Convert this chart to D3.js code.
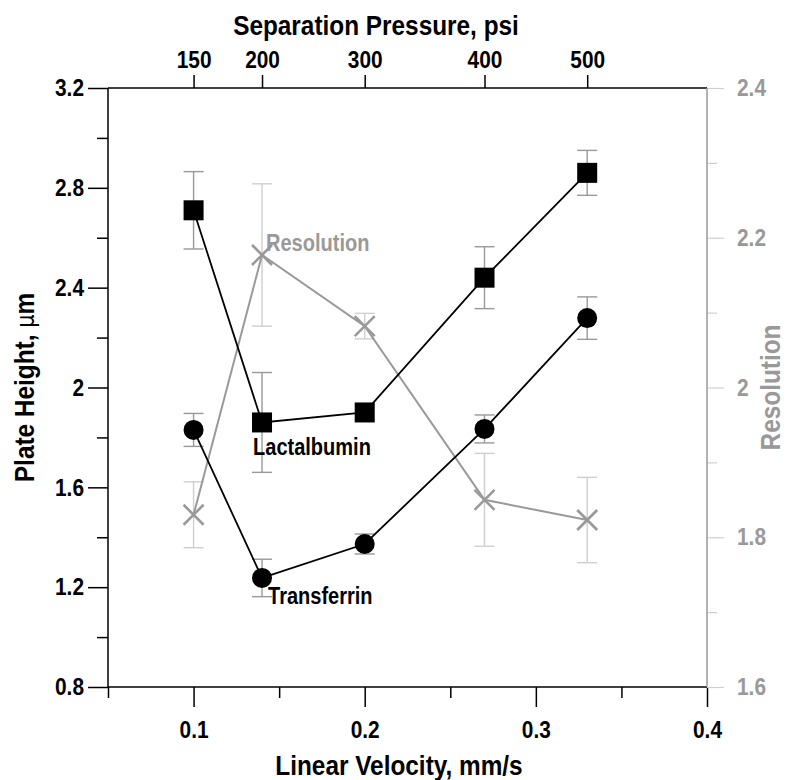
<!DOCTYPE html>
<html>
<head>
<meta charset="utf-8">
<script src="https://cdn.jsdelivr.net/npm/d3@7"></script>
<style>
  html, body { margin: 0; padding: 0; background: #fff; }
  text { font-family: "Liberation Sans", Arial, sans-serif; font-weight: bold; }
</style>
</head>
<body>
<svg id="chart" width="787" height="780"></svg>
<script>
// ---- data ----
const velocity = [0.1, 0.14, 0.2, 0.27, 0.33];
const pressureLabels = ["150", "200", "300", "400", "500"];
const lactalbumin = [2.71, 1.86, 1.90, 2.44, 2.86];
const lactalbuminErr = [0.155, 0.20, 0.03, 0.124, 0.09];
const transferrin = [1.83, 1.237, 1.373, 1.834, 2.278];
const transferrinErr = [0.066, 0.075, 0.04, 0.056, 0.085];
const resolution = [1.83, 2.177, 2.082, 1.85, 1.823];
const resolutionErr = [0.044, 0.095, 0.017, 0.062, 0.057];
const xMajor = [0.1, 0.2, 0.3, 0.4];
const xMinor = [0.05, 0.15, 0.25, 0.35];
const yMajor = [0.8, 1.2, 1.6, 2.0, 2.4, 2.8, 3.2];
const yMinor = [1.0, 1.4, 1.8, 2.2, 2.6, 3.0];
const rMajor = [1.6, 1.8, 2.0, 2.2, 2.4];
const rMinor = [1.7, 1.9, 2.1, 2.3];

// ---- layout ----
const L = 108, T = 88, W = 599, H = 599;
const svg = d3.select("#chart");
const x = d3.scaleLinear().domain([0.05, 0.4]).range([L, L + W]);
const y = d3.scaleLinear().domain([0.8, 3.2]).range([T + H, T]);
const yr = d3.scaleLinear().domain([1.6, 2.4]).range([T + H, T]);

const grayDark = "#999";
const grayLight = "#cfcfcf";
const fmt = d => d3.format("")(+d.toFixed(1));
const tickFont = 24, titleFont = 28, labelFont = 23;
const condense = 0.87;

// bottom axis
const gB = svg.append("g").attr("transform", `translate(0,${T + H})`);
gB.call(d3.axisBottom(x).tickValues(xMajor).tickSize(20).tickSizeOuter(0).tickFormat(fmt));
gB.append("g").call(d3.axisBottom(x).tickValues(xMinor).tickSize(11).tickSizeOuter(0).tickFormat(""));
gB.selectAll("path.domain").remove();
gB.selectAll("line").attr("stroke", "#000").attr("stroke-width", 1.5);
gB.selectAll("text").attr("font-size", tickFont).attr("dy", "0").attr("y", 51).attr("fill", "#000");

// top axis (pressure, at same velocities)
const gT = svg.append("g").attr("transform", `translate(0,${T})`);
gT.call(d3.axisTop(x).tickValues(velocity).tickSize(13).tickSizeOuter(0)
  .tickFormat((d, i) => pressureLabels[i]));
gT.selectAll("path.domain").remove();
gT.selectAll("line").attr("stroke", "#000").attr("stroke-width", 1.5);
gT.selectAll("text").attr("font-size", tickFont).attr("dy", "0").attr("y", -20).attr("fill", "#000");

// left axis
const gL = svg.append("g").attr("transform", `translate(${L},0)`);
gL.call(d3.axisLeft(y).tickValues(yMajor).tickSize(20).tickSizeOuter(0).tickFormat(fmt));
gL.append("g").call(d3.axisLeft(y).tickValues(yMinor).tickSize(11).tickSizeOuter(0).tickFormat(""));
gL.selectAll("path.domain").remove();
gL.selectAll("line").attr("stroke", "#000").attr("stroke-width", 1.5);
gL.selectAll("text").attr("font-size", tickFont).attr("x", -24).attr("fill", "#000");

// right axis
const gR = svg.append("g").attr("transform", `translate(${L + W},0)`);
gR.call(d3.axisRight(yr).tickValues(rMajor).tickSize(17).tickSizeOuter(0).tickFormat(fmt));
gR.append("g").call(d3.axisRight(yr).tickValues(rMinor).tickSize(10).tickSizeOuter(0).tickFormat(""));
gR.selectAll("path.domain").remove();
gR.selectAll("line").attr("stroke", grayLight).attr("stroke-width", 1.2);
gR.selectAll("text").attr("font-size", tickFont).attr("x", 30).attr("fill", grayDark);

// frame
svg.append("line").attr("x1", L).attr("x2", L + W).attr("y1", T).attr("y2", T).attr("stroke", "#000").attr("stroke-width", 1.5);
svg.append("line").attr("x1", L).attr("x2", L + W).attr("y1", T + H).attr("y2", T + H).attr("stroke", "#000").attr("stroke-width", 1.5);
svg.append("line").attr("x1", L).attr("x2", L).attr("y1", T).attr("y2", T + H).attr("stroke", "#000").attr("stroke-width", 1.5);
svg.append("line").attr("x1", L + W).attr("x2", L + W).attr("y1", T).attr("y2", T + H).attr("stroke", grayDark).attr("stroke-width", 1.5);

// titles
svg.append("text").attr("x", 376).attr("y", 35).attr("text-anchor", "middle").attr("font-size", titleFont).text("Separation Pressure, psi");
svg.append("text").attr("x", 399).attr("y", 775).attr("text-anchor", "middle").attr("font-size", titleFont).text("Linear Velocity, mm/s");
const lt = svg.append("text").attr("transform", `translate(34,${T + H / 2}) rotate(-90)`).attr("text-anchor", "middle").attr("font-size", titleFont);
lt.append("tspan").text("Plate Height, ");
lt.append("tspan").attr("font-weight", "normal").attr("font-family", "'DejaVu Sans', sans-serif").attr("font-size", titleFont - 4).text("μ");
lt.append("tspan").text("m");
svg.append("text").attr("transform", `translate(780,${T + H / 2}) rotate(-90)`).attr("text-anchor", "middle").attr("font-size", titleFont).attr("fill", grayDark).text("Resolution");

// error bars helper
function errBars(vals, errs, scale, color) {
  const g = svg.append("g").attr("stroke", color).attr("stroke-width", 1.4).attr("fill", "none");
  vals.forEach((v, i) => {
    const cx = x(velocity[i]);
    const y1 = scale(v + errs[i]), y2 = scale(v - errs[i]);
    g.append("line").attr("x1", cx).attr("x2", cx).attr("y1", y1).attr("y2", y2);
    g.append("line").attr("x1", cx - 10).attr("x2", cx + 10).attr("y1", y1).attr("y2", y1);
    g.append("line").attr("x1", cx - 10).attr("x2", cx + 10).attr("y1", y2).attr("y2", y2);
  });
}

// resolution series (behind)
errBars(resolution, resolutionErr, yr, grayLight);
const line = (scale) => d3.line().x((d, i) => x(velocity[i])).y(d => scale(d));
svg.append("path").datum(resolution).attr("d", line(yr)).attr("fill", "none").attr("stroke", grayDark).attr("stroke-width", 2);
const gx = svg.append("g").attr("stroke", grayDark).attr("stroke-width", 2.6);
resolution.forEach((v, i) => {
  const cx = x(velocity[i]), cy = yr(v), s = 10;
  gx.append("line").attr("x1", cx - s).attr("y1", cy - s).attr("x2", cx + s).attr("y2", cy + s);
  gx.append("line").attr("x1", cx - s).attr("y1", cy + s).attr("x2", cx + s).attr("y2", cy - s);
});

// lactalbumin and transferrin
errBars(lactalbumin, lactalbuminErr, y, grayDark);
errBars(transferrin, transferrinErr, y, grayDark);
svg.append("path").datum(lactalbumin).attr("d", line(y)).attr("fill", "none").attr("stroke", "#000").attr("stroke-width", 1.8);
svg.append("path").datum(transferrin).attr("d", line(y)).attr("fill", "none").attr("stroke", "#000").attr("stroke-width", 1.8);
svg.selectAll("rect.sq").data(lactalbumin).enter().append("rect")
  .attr("x", (d, i) => x(velocity[i]) - 10).attr("y", d => y(d) - 10)
  .attr("width", 20).attr("height", 20).attr("fill", "#000");
svg.selectAll("circle.ci").data(transferrin).enter().append("circle")
  .attr("cx", (d, i) => x(velocity[i])).attr("cy", d => y(d)).attr("r", 10).attr("fill", "#000");

// series labels
svg.append("text").attr("x", x(velocity[1]) + 4).attr("y", yr(resolution[1]) - 4).attr("font-size", labelFont).attr("fill", grayDark).text("Resolution");
svg.append("text").attr("x", x(velocity[1]) - 9).attr("y", y(lactalbumin[1]) + 33).attr("font-size", labelFont).attr("fill", "#000").text("Lactalbumin");
svg.append("text").attr("x", x(velocity[1]) + 6).attr("y", y(transferrin[1]) + 26).attr("font-size", labelFont).attr("fill", "#000").text("Transferrin");

// condense all text horizontally (reference uses a narrow bold face)
svg.selectAll("text").each(function () {
  const w = this.getComputedTextLength();
  if (w > 0) {
    this.setAttribute("textLength", (w * condense).toFixed(1));
    this.setAttribute("lengthAdjust", "spacingAndGlyphs");
  }
});
</script>
</body>
</html>
